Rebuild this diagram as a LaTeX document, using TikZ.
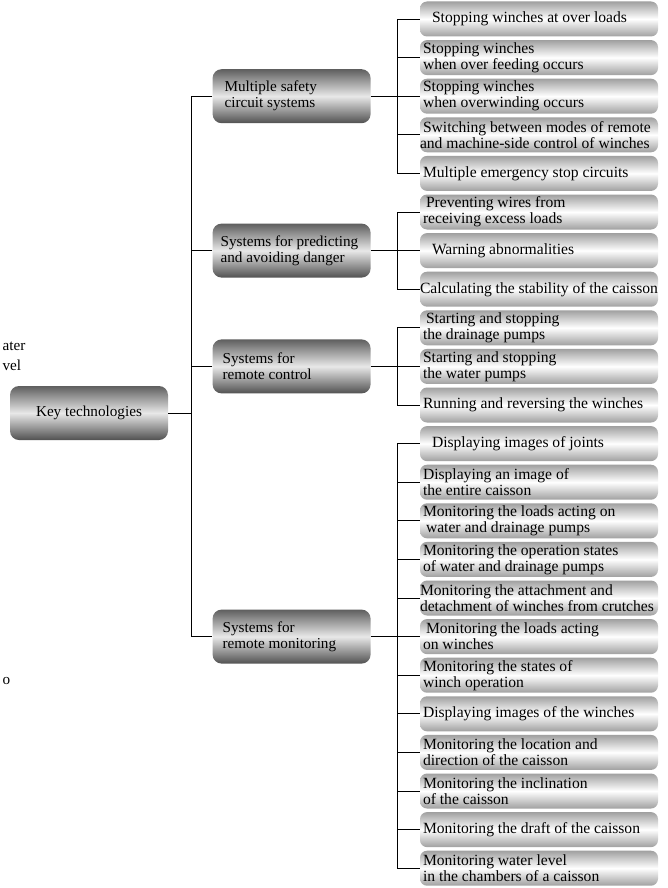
\documentclass[tikz,border=0pt]{standalone}
\usepackage{fontspec}
\setmainfont{Liberation Serif}
\usepackage{tikz}
\usetikzlibrary{positioning}
\usepackage{xcolor}
\definecolor{boxdark}{RGB}{95,95,95}
\definecolor{boxlight}{RGB}{232,232,232}
\definecolor{leafdark}{RGB}{160,160,160}
\definecolor{leaflight}{RGB}{255,255,255}

\begin{document}
\begin{tikzpicture}[
    x=1pt, y=-1pt,
    txt/.style={font=\fontsize{15.2}{16}\selectfont},
    keybox/.style={txt, rounded corners=9pt, minimum width=158pt, minimum height=54pt, inner xsep=6pt,
        top color=boxdark, bottom color=boxdark!85!black, middle color=boxlight},
    midbox/.style={keybox, text width=146pt, align=flush left},
    leaf/.style={font=\fontsize{15.6}{16}\selectfont, rounded corners=7pt, minimum width=238pt, minimum height=35pt, text width=238pt,
        inner xsep=0pt, inner ysep=2pt, align=flush left, top color=leafdark, bottom color=leafdark, middle color=leaflight},
    link/.style={line width=0.9pt}
]
\useasboundingbox (0,0) rectangle (667,888);

\node[txt, anchor=west] (frag1) at (-1,346) {ater};
\node[txt, anchor=west] (frag2) at (-1,365) {vel};
\node[txt, anchor=west] (frag3) at (-1,681) {o};

\node[leaf] (s1) at (539,19.0) {\hspace*{12pt}Stopping winches at over loads};
\node[leaf] (s2) at (539,57.6) {\hspace*{3pt}Stopping winches\\\hspace*{3pt}when over feeding occurs};
\node[leaf] (s3) at (539,96.2) {\hspace*{3pt}Stopping winches\\\hspace*{3pt}when overwinding occurs};
\node[leaf] (s4) at (539,134.8) {\hspace*{3pt}Switching between modes of remote\\and machine-side control of winches};
\node[leaf] (s5) at (539,173.4) {\hspace*{3pt}Multiple emergency stop circuits};

\node[leaf] (d1) at (539,212.0) {\hspace*{6pt}Preventing wires from\\\hspace*{3pt}receiving excess loads};
\node[leaf] (d2) at (539,250.6) {\hspace*{12pt}Warning abnormalities};
\node[leaf] (d3) at (539,289.2) {Calculating the stability of the caisson};

\node[leaf] (c1) at (539,327.8) {\hspace*{6pt}Starting and stopping\\\hspace*{3pt}the drainage pumps};
\node[leaf] (c2) at (539,366.4) {\hspace*{3pt}Starting and stopping\\\hspace*{3pt}the water pumps};
\node[leaf] (c3) at (539,405.0) {\hspace*{3pt}Running and reversing the winches};

\node[leaf] (m1) at (539,443.6) {\hspace*{12pt}Displaying images of joints};
\node[leaf] (m2) at (539,482.2) {\hspace*{3pt}Displaying an image of\\\hspace*{3pt}the entire caisson};
\node[leaf] (m3) at (539,520.8) {\hspace*{3pt}Monitoring the loads acting on\\\hspace*{6pt}water and drainage pumps};
\node[leaf] (m4) at (539,559.4) {\hspace*{3pt}Monitoring the operation states\\\hspace*{3pt}of water and drainage pumps};
\node[leaf] (m5) at (539,598.0) {Monitoring the attachment and\\detachment of winches from crutches};
\node[leaf] (m6) at (539,636.6) {\hspace*{6pt}Monitoring the loads acting\\\hspace*{3pt}on winches};
\node[leaf] (m7) at (539,675.2) {\hspace*{3pt}Monitoring the states of\\\hspace*{3pt}winch operation};
\node[leaf] (m8) at (539,713.8) {\hspace*{3pt}Displaying images of the winches};
\node[leaf] (m9) at (539,752.4) {\hspace*{3pt}Monitoring the location and\\\hspace*{3pt}direction of the caisson};
\node[leaf] (m10) at (539,791.0) {\hspace*{3pt}Monitoring the inclination\\\hspace*{3pt}of the caisson};
\node[leaf] (m11) at (539,829.6) {\hspace*{3pt}Monitoring the draft of the caisson};
\node[leaf] (m12) at (539,868.2) {\hspace*{3pt}Monitoring water level\\\hspace*{3pt}in the chambers of a caisson};

\node[midbox, left=49pt of s3] (msafe) {\hspace*{6pt}Multiple safety\\\hspace*{6pt}circuit systems};
\node[midbox, left=49pt of d2] (danger) {\hspace*{2pt}Systems for predicting\\\hspace*{2pt}and avoiding danger};
\node[midbox, left=49pt of c2] (rctrl) {\hspace*{4pt}Systems for\\\hspace*{4pt}remote control};
\node[midbox, left=49pt of m6] (rmon) {\hspace*{4pt}Systems for\\\hspace*{4pt}remote monitoring};

\node[keybox] (key) at (89,413) {Key technologies};

\coordinate (trunk) at (191,0);
\coordinate (bx) at (397,0);

\draw[link] (key.east) -- (key.east -| trunk);
\draw[link] (msafe.west) -| (trunk |- rmon.west) -- (rmon.west);
\draw[link] (danger.west) -- (danger.west -| trunk);
\draw[link] (rctrl.west) -- (rctrl.west -| trunk);

\draw[link] (msafe.east) -- (s3.west);
\draw[link] (s1.west) -| (bx |- s5.west) -- (s5.west);
\draw[link] (s2.west) -- (s2.west -| bx);
\draw[link] (s4.west) -- (s4.west -| bx);

\draw[link] (danger.east) -- (d2.west);
\draw[link] (d1.west) -| (bx |- d3.west) -- (d3.west);

\draw[link] (rctrl.east) -- (c2.west);
\draw[link] (c1.west) -| (bx |- c3.west) -- (c3.west);

\draw[link] (rmon.east) -- (m6.west);
\draw[link] (m1.west) -| (bx |- m12.west) -- (m12.west);
\draw[link] (m2.west) -- (m2.west -| bx);
\draw[link] (m3.west) -- (m3.west -| bx);
\draw[link] (m4.west) -- (m4.west -| bx);
\draw[link] (m5.west) -- (m5.west -| bx);
\draw[link] (m7.west) -- (m7.west -| bx);
\draw[link] (m8.west) -- (m8.west -| bx);
\draw[link] (m9.west) -- (m9.west -| bx);
\draw[link] (m10.west) -- (m10.west -| bx);
\draw[link] (m11.west) -- (m11.west -| bx);
\end{tikzpicture}
\end{document}
